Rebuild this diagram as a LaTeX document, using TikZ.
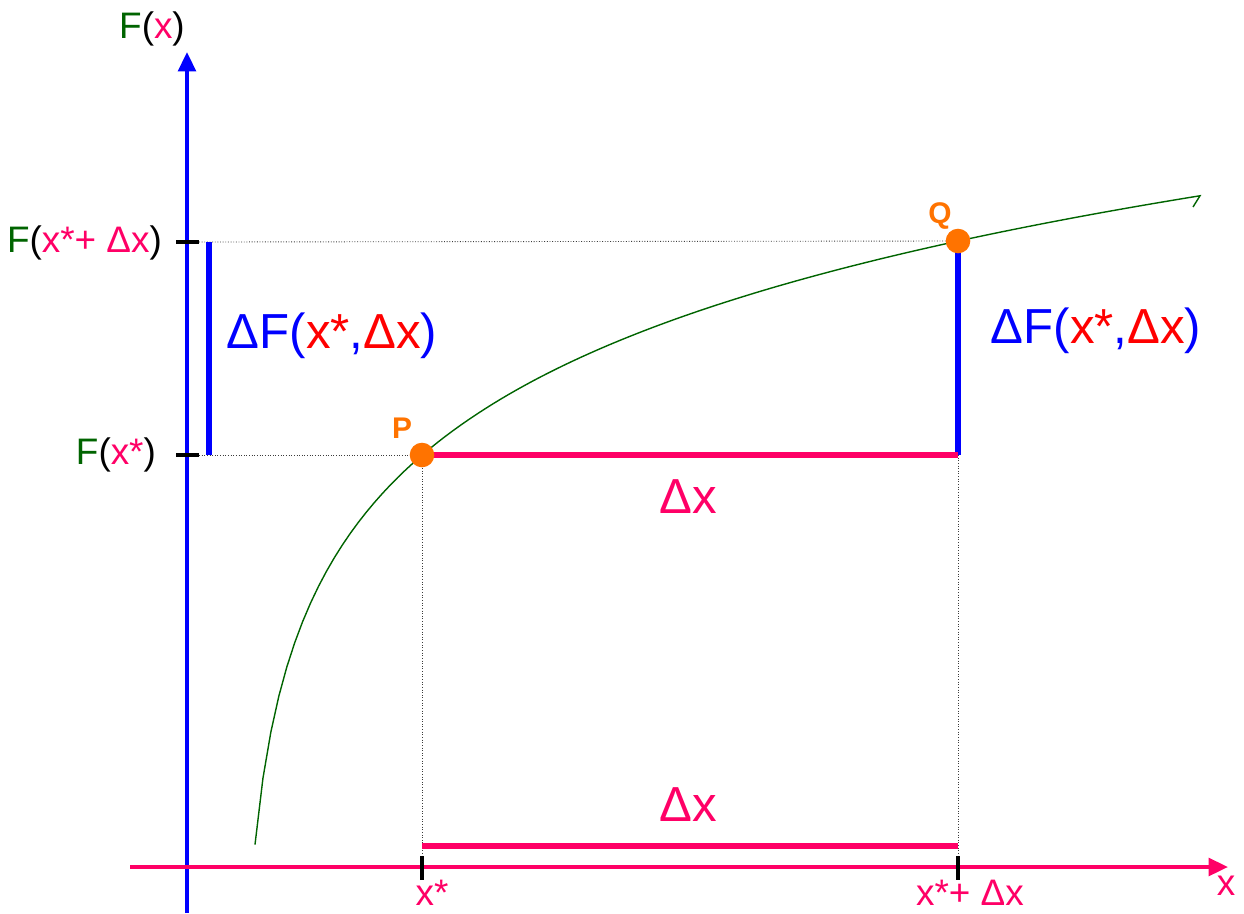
\documentclass[tikz,border=0pt]{standalone}
\usepackage{fontspec}
\setmainfont{Liberation Sans}
\usepackage{tikz}
\usetikzlibrary{arrows.meta, positioning, calc}
\definecolor{myblue}{RGB}{0,0,255}
\definecolor{mypink}{RGB}{255,0,102}
\definecolor{myred}{RGB}{255,0,0}
\definecolor{mygreen}{RGB}{0,100,0}
\definecolor{myorange}{RGB}{255,115,0}
\definecolor{mydot}{RGB}{60,60,60}
\newcommand{\midfont}{\fontsize{21}{25}\selectfont}
\newcommand{\bigfont}{\fontsize{28}{33}\selectfont}
\tikzset{
  yaxis/.style={-{Triangle[length=11pt,width=10pt]}, line width=2.1pt, color=myblue},
  xaxis/.style={-{Triangle[length=11pt,width=10pt]}, line width=2.1pt, color=mypink},
  tick/.style={line width=2.4pt, color=black},
  guide/.style={densely dotted, line width=0.5pt, color=mydot},
  dfbar/.style={line width=3.2pt, color=myblue},
  dxbar/.style={line width=3.2pt, color=mypink},
  curve/.style={line width=0.8pt, color=mygreen},
  pt/.style={circle, fill=myorange, minimum size=14pt, inner sep=0pt},
  ptlabel/.style={font=\bfseries\fontsize{17}{20}\selectfont, text=myorange},
  axlabel/.style={font=\midfont, inner sep=1pt},
  biglabel/.style={font=\bigfont, inner sep=1pt}
}

\begin{document}
\begin{tikzpicture}[x=0.02cm, y=-0.02cm]
  \useasboundingbox (0,0) rectangle (1244,913);

  % axes
  \coordinate (ybot) at (187,913);
  \coordinate (ytop) at (187,52);
  \coordinate (xleft) at (130,867);
  \coordinate (xright) at (1228,867);
  \draw[yaxis] (ybot) -- (ytop);
  \draw[xaxis] (xleft) -- (xright);

  % points on the curve
  \coordinate (Pc) at (422,455);
  \coordinate (Qc) at (958,241);

  % ticks
  \coordinate (tq1) at (176,242);
  \coordinate (tq2) at (199,242);
  \coordinate (tp1) at (176,455);
  \coordinate (tp2) at (199,455);
  \coordinate (ta1) at (422,856);
  \coordinate (ta2) at (422,880);
  \coordinate (tb1) at (958,856);
  \coordinate (tb2) at (958,880);
  \coordinate (Qfoot) at (958,455);

  \draw[guide] (tq2) -- (Qc);
  \draw[guide] (tp2) -- (Pc);
  \draw[guide] (Pc) -- (ta1);
  \draw[guide] (Qfoot) -- (tb1);

  \draw[tick] (tq1) -- (tq2);
  \draw[tick] (tp1) -- (tp2);
  \draw[tick] (ta1) -- (ta2);
  \draw[tick] (tb1) -- (tb2);

  % the curve
  \draw[curve] plot[domain=255:1200, samples=120] (\x, {1267-156*ln(\x-240)}) -- (1193,207);

  % increments
  \coordinate (lb1) at (209,242);
  \coordinate (lb2) at (209,455);
  \coordinate (dx1) at (422,846);
  \coordinate (dx2) at (958,846);
  \draw[dfbar] (lb1) -- (lb2);
  \draw[dfbar] (Qc) -- (Qfoot);
  \draw[dxbar] (Pc) -- (Qfoot);
  \draw[dxbar] (dx1) -- (dx2);

  \node[pt] (P) at (Pc) {};
  \node[pt] (Q) at (Qc) {};

  % labels
  \node[axlabel] (Fx) at (152,29) {\textcolor{mygreen}{F}(\textcolor{mypink}{x})};
  \node[axlabel] (xl) at (1226,886) {\textcolor{mypink}{x}};
  \node[axlabel, anchor=east] (Fxd) at (164,243) {\textcolor{mygreen}{F}(\textcolor{mypink}{x*+ Δx})};
  \node[axlabel, anchor=east] (Fxs) at (158,455) {\textcolor{mygreen}{F}(\textcolor{mypink}{x*})};
  \node[axlabel, text=mypink] (xs) at (432,893) {x*};
  \node[axlabel, text=mypink] (xsd) at (970,893) {x*+ Δx};
  \node[ptlabel] (Pl) at (402,428) {P};
  \node[ptlabel] (Ql) at (940,216) {Q};
  \node[biglabel, text=myblue] (dFl) at (332,336) {ΔF(\textcolor{myred}{x*},\textcolor{myred}{Δx})};
  \node[biglabel, text=myblue] (dFr) at (1096,331) {ΔF(\textcolor{myred}{x*},\textcolor{myred}{Δx})};
  \node[biglabel, text=mypink] (dxm) at (688,497) {Δx};
  \node[biglabel, text=mypink] (dxb) at (688,805) {Δx};
\end{tikzpicture}
\end{document}
